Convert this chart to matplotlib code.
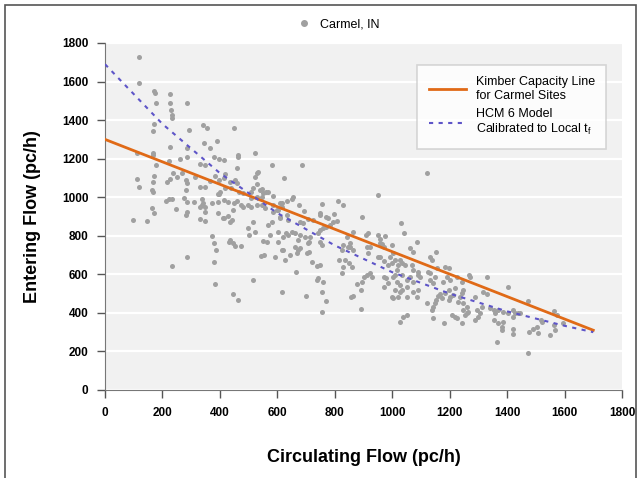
import matplotlib
matplotlib.use("Agg")
import matplotlib.pyplot as plt
from matplotlib.patches import Rectangle
from matplotlib.lines import Line2D

plt.rcParams['font.family'] = ['Liberation Sans', 'DejaVu Sans']

circ_flow = [
    118, 118, 170, 175, 178, 225, 227, 231, 235, 233, 285, 172, 167, 294, 342, 354,
    449, 227, 346, 389, 364, 284, 110, 168, 166, 287, 224, 261, 381, 397, 414, 462,
    464, 523, 177, 331, 348, 458, 581, 687, 110, 118, 172, 168, 166, 164, 215, 226,
    236, 252, 267, 282, 287, 282, 313, 331, 348, 366, 383, 396, 401, 392, 417, 413,
    417, 439, 453, 458, 466, 481, 508, 516, 528, 534, 545, 551, 559, 566, 586, 622,
    616, 632, 653, 650, 675, 693, 754, 748, 771, 797, 812, 827, 224, 232, 212, 247,
    163, 172, 276, 287, 287, 282, 309, 336, 342, 348, 348, 336, 331, 372, 395, 395,
    397, 414, 428, 414, 428, 450, 458, 475, 499, 508, 528, 545, 557, 586, 598, 611,
    616, 523, 435, 528, 539, 545, 528, 510, 481, 447, 586, 603, 609, 632,
    99, 145, 331, 348, 371, 379, 386, 379, 287, 232, 383, 433,
    412, 441, 435, 516, 522, 499, 502, 568, 583, 574, 609, 638, 603, 435, 444, 452,
    475, 551, 563, 603, 621, 630, 638, 650, 661, 679, 673, 696, 711, 708, 713, 743,
    748, 760, 771, 783, 679, 690, 708, 725, 748, 777, 615, 621, 626, 661, 665, 644,
    667, 673, 679, 542, 554, 592, 702, 711, 719, 737, 748, 748, 754, 516, 737, 743,
    760, 615, 447, 464, 700, 754, 769, 754,
    1120, 952, 896, 1030, 1041, 795, 806, 862, 841, 853, 847, 830, 824, 816, 836, 827,
    824, 859, 850, 853, 865, 909, 917, 911, 923, 914, 952, 958, 975, 956, 964, 970,
    958, 952, 970, 998, 1004, 992, 998, 987, 1010, 1027, 1021, 1033, 1015, 1010, 1033,
    900, 911, 923, 929, 894, 877, 891, 855, 862, 891, 970, 979, 970, 987, 1004, 1015,
    1027, 1033, 1010, 998, 1004, 1021, 1027, 1050, 1045, 1062, 1074, 1085, 1068, 1074,
    1091, 1097, 1091, 1062, 1050, 1074, 1071, 1091, 1085, 1053, 1131, 1137, 1152, 1131,
    1149, 1143, 1131, 1155, 1126, 1120, 1149, 1152, 1160, 1143, 1137, 1027, 1039, 1053,
    1143, 1181, 1184, 1199, 1190, 1178, 1201, 1196, 1184, 1167, 1172, 1199, 1201, 1219,
    1213, 1225, 1242, 1248, 1242, 1236, 1230, 1248, 1260, 1248, 1265, 1268, 1271, 1289,
    1207, 1219, 1225, 1242, 1254, 1260, 1289, 1300, 1306, 1294, 1312, 1329, 1315, 1329,
    1341, 1353, 1358, 1353, 1370, 1381, 1387, 1364, 1381, 1404, 1370, 1387, 1404, 1422,
    1428, 1439, 1445, 1422, 1422, 1422, 1477, 1491, 1503, 1509, 1517, 1521, 1471, 1471,
    1550, 1564, 1567, 1564, 1573, 1596,
]
entering_flow = [
    1725, 1595, 1550, 1540, 1490, 1535, 1490, 1455, 1425, 1410, 1490, 1380, 1345, 1350, 1375, 1360,
    1360, 1260, 1283, 1290, 1257, 1257, 1230, 1231, 1220, 1211, 1190, 1200, 1207, 1200, 1195, 1217,
    1208, 1228, 1167, 1174, 1167, 1150, 1169, 1169, 1096, 1053, 1110, 1081, 1029, 1035, 1077, 1093,
    1124, 1106, 1127, 1089, 1072, 1035, 1106, 1055, 1055, 1083, 1112, 1089, 1029, 1017, 1120, 1098,
    1046, 1050, 1089, 1072, 1029, 1020, 1029, 1046, 1124, 1133, 1043, 1020, 1027, 1029, 1008, 1100,
    971, 980, 1003, 993, 961, 927, 963, 916, 896, 915, 978, 960, 989, 991, 981, 937,
    946, 917, 994, 973, 925, 907, 976, 990, 969, 951, 925, 960, 951, 969, 973, 917,
    1015, 983, 975, 891, 900, 969, 980, 958, 961, 951, 958, 961, 944, 961, 934, 971,
    951, 1107, 1081, 1069, 1038, 1003, 1003, 994, 951, 933, 925, 934, 899, 907,
    882, 877, 885, 877, 800, 761, 726, 666, 692, 643, 548, 769,
    890, 882, 869, 873, 821, 838, 804, 856, 873, 804, 890, 881, 821, 778, 761, 747,
    747, 775, 769, 769, 795, 812, 804, 821, 813, 804, 778, 795, 769, 761, 795, 812,
    830, 838, 847, 856, 873, 864, 885, 881, 907, 890, 726, 726, 674, 743, 614, 700,
    712, 726, 739, 696, 700, 692, 709, 718, 666, 643, 648, 769, 752, 571, 571, 579,
    562, 507, 498, 467, 488, 510, 464, 404,
    1125, 1013, 899, 865, 813, 869, 877, 821, 792, 761, 744, 752, 726, 675, 675, 640,
    609, 640, 657, 744, 726, 804, 813, 744, 744, 709, 804, 784, 801, 765, 757, 740,
    688, 692, 671, 753, 709, 692, 657, 648, 674, 674, 648, 657, 622, 596, 596,
    588, 596, 605, 588, 562, 550, 519, 484, 488, 418, 588, 579, 536, 553, 588, 562,
    545, 519, 519, 484, 475, 484, 510, 484, 648, 735, 718, 769, 648, 622,
    614, 588, 596, 588, 571, 562, 510, 519, 484, 536, 692, 675, 718, 605,
    588, 553, 571, 631, 614, 450, 450, 467, 488, 432, 415, 355, 381, 389,
    372, 350, 640, 631, 588, 562, 571, 519, 502, 498, 475, 467, 484, 527,
    493, 588, 562, 519, 502, 484, 458, 450, 432, 415, 406, 597, 588, 484,
    389, 380, 372, 346, 389, 398, 363, 380, 398, 415, 432, 588, 510, 498,
    424, 415, 398, 363, 346, 329, 355, 251, 312, 532, 415, 406, 398, 415,
    398, 401, 398, 381, 317, 291, 301, 314, 329, 295, 363, 355, 463, 193,
    287, 339, 313, 408, 391, 348,
]

# capacity curves, values read at the marked circulating flows
kimber_x = [0, 1700]
kimber_y = [1300, 310]
hcm_x = [0, 200, 400, 600, 800, 1000, 1200, 1400, 1600, 1700]
hcm_y = [1690, 1380, 1125, 918, 750, 611, 500, 408, 333, 300]

ticks = [0, 200, 400, 600, 800, 1000, 1200, 1400, 1600, 1800]

fig = plt.figure(figsize=(6.39, 4.78), dpi=100)
ax = fig.add_axes([105 / 639, 88 / 478, 517 / 639, 347 / 478])

# thin frame around the figure
fig.patches.append(Rectangle((5 / 639, -0.05), 631 / 639, 1.05 - 5 / 478,
                             transform=fig.transFigure, fill=False,
                             edgecolor='#555555', linewidth=1.2))

ax.set_facecolor('#f1f1f1')
ax.set_xlim(0, 1800)
ax.set_ylim(0, 1800)
ax.set_xticks(ticks)
ax.set_yticks(ticks)
ax.grid(axis='y', color='white', linewidth=1.6)
ax.set_axisbelow(True)
for side in ['top', 'right']:
    ax.spines[side].set_visible(False)
for side in ['left', 'bottom']:
    ax.spines[side].set_color('#777777')
ax.tick_params(direction='out', length=6, width=1, color='#555555',
               labelsize=8.5, pad=6)
for lbl in ax.get_xticklabels() + ax.get_yticklabels():
    lbl.set_fontweight('bold')

ax.scatter(circ_flow, entering_flow, s=13, color='#a0a0a0', linewidths=0,
           zorder=2)
ax.plot(kimber_x, kimber_y, color='#e06a17', linewidth=2,
        label='Kimber Capacity Line\nfor Carmel Sites', zorder=3)
ax.plot(hcm_x, hcm_y, color='#5e55c8', linewidth=1.5, dashes=(2, 2.6),
        label='HCM 6 Model\nCalibrated to Local t$_{\\mathregular{f}}$', zorder=3)

leg = ax.legend(loc='upper right', bbox_to_anchor=(0.982, 0.955), fontsize=9,
                frameon=True, fancybox=False, edgecolor='#cccccc',
                handlelength=3, borderpad=0.9, labelspacing=0.5)
leg.get_frame().set_linewidth(1.2)

fig.legend(handles=[Line2D([], [], marker='o', linestyle='', color='#a0a0a0',
                           markersize=4)],
           labels=['Carmel, IN'], loc='upper center',
           bbox_to_anchor=(0.525, 0.985), frameon=False, fontsize=9,
           handletextpad=0.3)

ax.set_xlabel('Circulating Flow (pc/h)', fontsize=13, fontweight='bold',
              labelpad=22)
ax.set_ylabel('Entering Flow (pc/h)', fontsize=13, fontweight='bold',
              labelpad=15)

fig.savefig('out.png', dpi=100)
